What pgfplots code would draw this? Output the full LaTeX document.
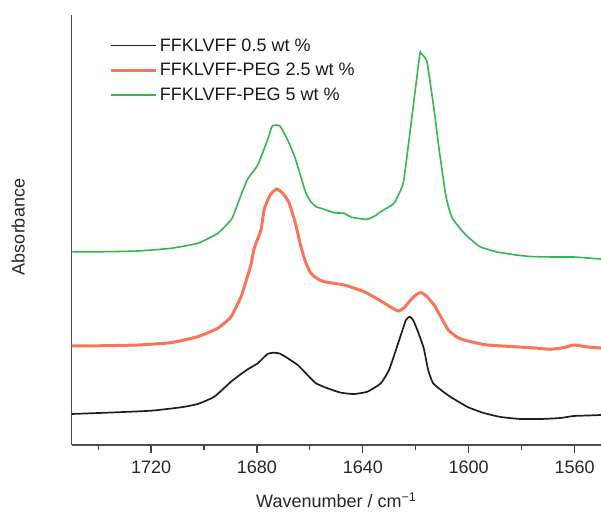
\documentclass[border=0pt]{standalone}
\usepackage{fontspec}
\setmainfont{Liberation Sans}
\usepackage{pgfplots}
\pgfplotsset{compat=1.18}

\definecolor{ftirblack}{RGB}{30,30,30}
\definecolor{ftirorange}{RGB}{248,118,86}
\definecolor{ftirgreen}{RGB}{52,182,82}

\begin{document}
\begin{tikzpicture}
\begin{axis}[
    scale only axis,
    width=529.3pt, height=430pt,
    x dir=reverse,
    xmin=1550, xmax=1750,
    ymin=0, ymax=430,
    axis x line*=bottom, axis y line*=left,
    axis line style={black!70, line width=1.3pt},
    xtick={1560,1600,1640,1680,1720},
    minor xtick={1580,1620,1660,1700,1740},
    ytick=\empty,
    tick align=outside,
    major tick length=8pt, minor tick length=5pt,
    every tick/.style={black!75, line width=1.2pt},
    /pgf/number format/assume math mode=true,
    /pgf/number format/set thousands separator={},
    tick label style={font=\fontsize{18}{21}\selectfont, text=black!85},
    xticklabel style={yshift=-4pt},
    xlabel={Wavenumber / cm\textsuperscript{\char"2212 1}},
    ylabel={Absorbance},
    label style={font=\fontsize{18}{21}\selectfont, text=black!85},
    xlabel style={at={(axis description cs:0.5,0)}, anchor=center, yshift=-55pt},
    ylabel style={at={(axis description cs:-0.101,0.507)}, anchor=center},
    legend style={draw=none, fill=none, at={(0.066,0.955)}, anchor=north west,
        font=\fontsize{18}{21}\selectfont, text=black!90,
        row sep=6.5pt, nodes={inner sep=2pt}},
    legend cell align=left,
    legend image code/.code={\draw[#1] (0pt,0pt) -- (45pt,0pt);},
    clip=false,
]
\coordinate (sw) at (rel axis cs:0,0);
\coordinate (ne) at (rel axis cs:1,1);

\addplot[ftirblack, line width=1.7pt, smooth, tension=0.3] coordinates {
(1750,31) (1735,32.5) (1720,34.3) (1708.7,37.7) (1702.4,41) (1696.1,48.3)
(1689.8,63.3) (1686.5,70) (1683.5,75.7) (1679.7,81.7) (1676,91) (1673.5,92.3)
(1671.5,91.5) (1669.7,89) (1664.6,80) (1660.9,70) (1657.7,61.7) (1653.3,56.7)
(1648.3,52.3) (1643.3,51) (1638.3,53.3) (1633.2,61.7) (1630.1,75) (1627.5,95)
(1625,115) (1623.7,125) (1622.3,128.3) (1621,125) (1619.4,115) (1617,97)
(1615.3,75) (1613.5,62) (1610,54) (1606.8,48) (1600.4,38) (1594.3,32)
(1587.9,28) (1580.4,26) (1572.8,26) (1565.3,27) (1560.4,29) (1555,29.5) (1550,30)
};
\addlegendentry{FFKLVFF 0.5 wt \%}

\addplot[ftirorange, line width=3pt, smooth, tension=0.3] coordinates {
(1750,99) (1737.6,99.3) (1725,100) (1712.5,102.3) (1702.4,108.3) (1694.8,116.7)
(1689.8,128.3) (1686,148.3) (1684.8,158) (1682.3,180) (1681,197) (1678.5,215)
(1677.2,236) (1675,250) (1672.5,256) (1670,251) (1667.8,241.7) (1665.5,222)
(1663.4,198.3) (1661.5,182) (1659.6,171.7) (1657,166) (1654.6,163.3) (1647.1,160)
(1639.5,153.3) (1633.2,144) (1629.5,138) (1626.6,134) (1624.5,137) (1622.5,143.3)
(1620,150) (1618.1,152.5) (1616,149) (1613.1,140) (1610.5,128) (1607.7,115)
(1604.5,108) (1601.8,105) (1597,102) (1593,100) (1582.9,98.3) (1575,97)
(1569.1,95.7) (1564,97.5) (1560.3,100) (1555,98) (1550,97)
};
\addlegendentry{FFKLVFF-PEG 2.5 wt \%}

\addplot[ftirgreen, line width=1.6pt, smooth, tension=0.3] coordinates {
(1750,193.3) (1737.6,193.3) (1725,194) (1712.5,196.7) (1702.4,201.7) (1694.8,211.7)
(1689.8,225) (1688.6,231.7) (1686,250) (1683.5,266) (1679.7,280) (1676,305)
(1674.2,319) (1671.3,319) (1668.4,305) (1665.7,288) (1663.4,268) (1661.5,252)
(1659.6,243) (1657.5,238) (1655.8,236.7) (1650.8,232.3) (1647.1,231.7) (1644.5,228)
(1642,226.7) (1638.3,225.7) (1635.5,229) (1633.2,233.3) (1628.2,241.7) (1625.7,255)
(1624.5,265) (1621.5,327) (1618.5,390) (1618.1,392) (1617.4,390) (1615.8,384)
(1614.3,358) (1612.8,330) (1611.3,298) (1609.9,272) (1608.7,250) (1607.4,236)
(1606,226) (1601.8,212) (1598.5,204) (1595.5,198) (1589.2,193) (1582,190)
(1576.6,188.5) (1568,188) (1560.3,188) (1555,187) (1550,186)
};
\addlegendentry{FFKLVFF-PEG 5 wt \%}
\end{axis}
\pgfresetboundingbox
\path ([xshift=-71.7pt,yshift=-68pt]sw) rectangle ([yshift=15pt]ne);
\end{tikzpicture}
\end{document}
